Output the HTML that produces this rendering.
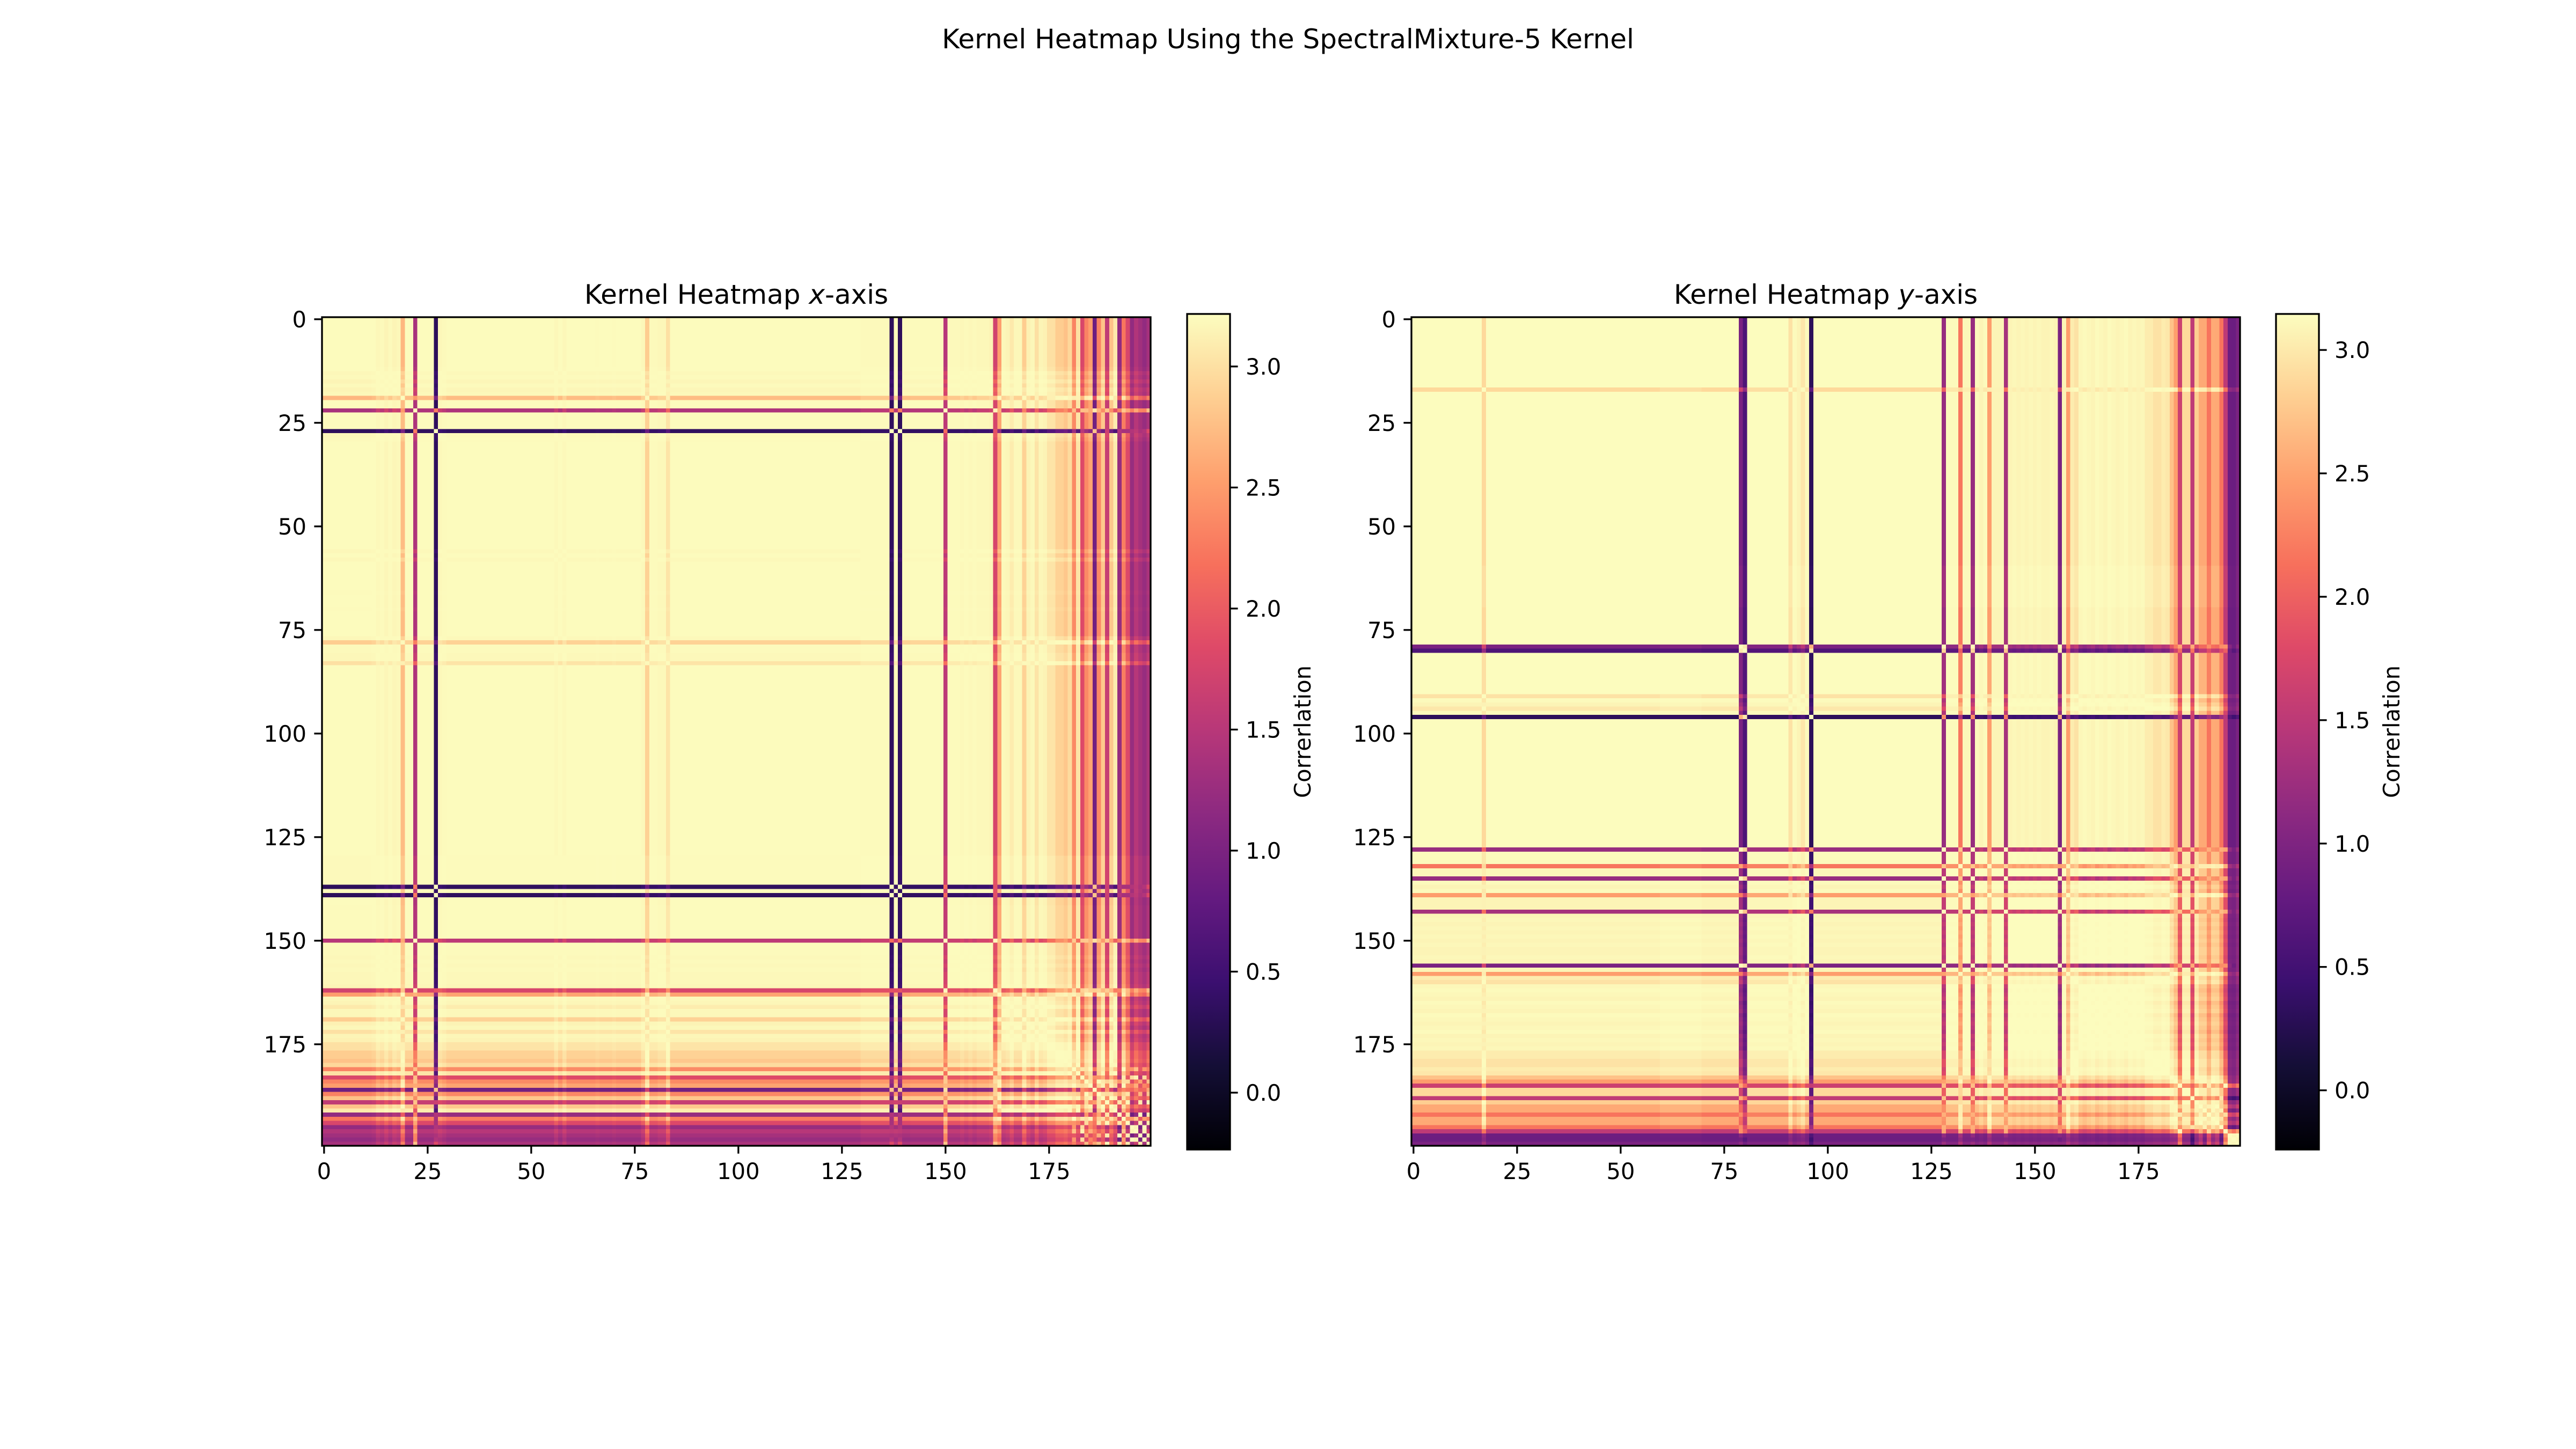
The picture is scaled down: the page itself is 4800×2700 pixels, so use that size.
<!DOCTYPE html>
<html>
<head>
<meta charset="utf-8">
<style>
html,body{margin:0;padding:0;background:#fff;}
#fig{position:relative;width:4800px;height:2700px;overflow:hidden;background:#fff;}
canvas.hm{position:absolute;image-rendering:pixelated;image-rendering:crisp-edges;}
svg{position:absolute;left:0;top:0;}
text{font-family:"DejaVu Sans","Liberation Sans",sans-serif;fill:#000;}
</style>
</head>
<body>
<div id="fig">
<canvas id="hmL" class="hm" width="200" height="200" style="left:600px;top:591px;width:1544px;height:1544px;"></canvas>
<canvas id="hmR" class="hm" width="200" height="200" style="left:2630px;top:591px;width:1544px;height:1544px;"></canvas>
<svg id="ov" width="4800" height="2700">
<defs>
<linearGradient id="magma" x1="0" y1="1" x2="0" y2="0">
<stop offset="0" stop-color="#000004"/><stop offset="0.1" stop-color="#140e36"/><stop offset="0.2" stop-color="#3b0f70"/><stop offset="0.3" stop-color="#641a80"/><stop offset="0.4" stop-color="#8c2981"/><stop offset="0.5" stop-color="#b73779"/><stop offset="0.6" stop-color="#de4968"/><stop offset="0.7" stop-color="#f7705c"/><stop offset="0.8" stop-color="#fe9f6d"/><stop offset="0.9" stop-color="#fecf92"/><stop offset="1" stop-color="#fcfdbf"/>
</linearGradient>
</defs>
<text x="2400" y="90" font-size="50" text-anchor="middle">Kernel Heatmap Using the SpectralMixture-5 Kernel</text>
<text x="1372" y="566" font-size="50" text-anchor="middle">Kernel Heatmap <tspan font-style="italic">x</tspan>-axis</text>
<text x="3402" y="566" font-size="50" text-anchor="middle">Kernel Heatmap <tspan font-style="italic">y</tspan>-axis</text>
</svg>
</div>
<script>
const leftValues = [
3.12,3.12,3.12,3.12,3.12,3.12,3.12,3.12,3.12,3.12,
3.12,3.12,3.10,3.00,3.05,2.95,3.05,2.95,3.00,2.30,
3.10,3.10,1.00,3.10,3.10,3.10,3.10,0.20,3.00,3.05,
3.10,3.10,3.10,3.10,3.10,3.10,3.10,3.10,3.10,3.10,
3.10,3.10,3.10,3.10,3.10,3.10,3.10,3.10,3.10,3.10,
3.10,3.10,3.10,3.10,3.10,3.10,3.00,3.10,3.00,3.10,
3.10,3.10,3.10,3.10,3.10,3.10,3.08,3.10,3.10,3.10,
3.08,3.10,3.10,3.10,3.10,3.10,3.10,3.00,2.50,3.05,
3.05,3.00,3.00,2.70,3.10,3.10,3.10,3.10,3.10,3.10,
3.10,3.10,3.10,3.10,3.10,3.10,3.10,3.10,3.10,3.10,
3.10,3.10,3.10,3.10,3.10,3.10,3.10,3.10,3.10,3.10,
3.10,3.10,3.10,3.10,3.10,3.10,3.10,3.10,3.10,3.10,
3.10,3.10,3.10,3.10,3.10,3.10,3.10,3.10,3.10,3.10,
3.05,3.05,3.05,3.05,3.05,3.05,3.05,0.20,3.05,0.20,
3.10,3.10,3.08,3.08,3.08,3.08,3.08,3.08,3.08,3.08,
1.10,3.05,3.05,3.05,3.00,3.05,3.00,3.05,3.00,3.00,
3.00,2.95,1.30,2.10,3.00,2.95,2.80,3.00,3.00,2.50,
2.90,3.00,2.70,2.95,2.90,2.70,2.70,2.50,2.50,2.40,
2.60,1.90,2.70,1.40,1.90,2.10,0.60,1.90,2.40,1.20,
2.40,2.80,0.90,1.80,1.40,0.90,1.10,1.00,0.90,1.00
];
// Direction (degrees) in which each index departs from the main cluster
const leftAngles = [
0,0,0,0,0,0,0,0,0,0, 0,0,0,0,0,0,0,0,0,0, 0,0,0,0,0,0,0,0,0,0,
0,0,0,0,0,0,0,0,0,0, 0,0,0,0,0,0,0,0,0,0, 0,0,0,0,0,0,0,0,0,0,
0,0,0,0,0,0,0,0,0,0, 0,0,0,0,0,0,0,0,0,0, 0,0,0,0,0,0,0,0,0,0,
0,0,0,0,0,0,0,0,0,0, 0,0,0,0,0,0,0,0,0,0, 0,0,0,0,0,0,0,0,0,0,
0,0,0,0,0,0,0,0,0,0, 0,0,0,0,0,0,0,0,0,0, 0,0,0,0,0,0,0,0,0,0,
0,0,0,0,0,0,0,0,0,0, 0,0,0,0,0,0,0,0,0,0, 0,0,0,0,0,0,0,0,0,0,
0,10,0,20,-10,10,0,-15,0,-20, 0,0,-30,10,-25,30,25,-30,30,-20
];
const rightValues = [
3.08,3.08,3.08,3.08,3.08,3.08,3.08,3.08,3.08,3.08,
3.08,3.08,3.08,3.08,3.08,3.08,3.08,2.60,3.08,3.08,
3.08,3.08,3.08,3.08,3.08,3.08,3.08,3.08,3.08,3.08,
3.08,3.08,3.08,3.08,3.08,3.08,3.08,3.08,3.08,3.08,
3.08,3.08,3.08,3.08,3.08,3.08,3.08,3.08,3.08,3.08,
3.08,3.08,3.08,3.08,3.08,3.08,3.08,3.08,3.08,3.08,
3.05,3.05,3.05,3.05,3.05,3.05,3.05,3.05,3.05,3.05,
3.08,3.08,3.08,3.08,3.08,3.08,3.08,3.08,3.08,0.70,
0.40,3.05,3.05,3.05,3.05,3.05,3.05,3.05,3.05,3.05,
3.05,2.70,3.00,2.90,2.75,3.00,0.20,3.08,3.08,3.08,
3.08,3.08,3.08,3.08,3.08,3.08,3.08,3.08,3.08,3.08,
3.08,3.08,3.08,3.08,3.08,3.08,3.08,3.08,3.08,3.08,
3.08,3.08,3.08,3.08,3.08,3.08,3.08,3.08,0.90,3.00,
3.00,3.00,1.80,2.95,2.95,0.90,3.00,2.90,3.00,2.10,
2.90,2.90,2.90,1.00,2.90,2.95,2.90,2.95,2.90,2.95,
2.90,2.95,2.90,2.90,2.95,2.90,0.70,2.90,2.10,2.80,
2.70,2.95,3.00,2.95,2.90,3.00,2.95,2.90,3.00,2.95,
2.90,2.95,3.00,2.90,2.95,2.90,2.95,2.80,2.80,2.70,
2.70,2.80,2.75,2.40,2.10,1.30,2.60,2.60,1.20,2.50,
2.20,2.20,1.80,2.20,2.20,1.80,1.20,0.70,0.70,0.80
];
const rightAngles = [
0,0,0,0,0,0,0,0,0,0, 0,0,0,0,0,0,0,0,0,0, 0,0,0,0,0,0,0,0,0,0,
0,0,0,0,0,0,0,0,0,0, 0,0,0,0,0,0,0,0,0,0, 0,0,0,0,0,0,0,0,0,0,
0,0,0,0,0,0,0,0,0,0, 0,0,0,0,0,0,0,0,0,0, 0,0,0,0,0,0,0,0,0,0,
0,0,0,0,0,0,0,0,0,0, 0,0,0,0,0,0,0,0,0,0, 0,0,0,0,0,0,0,0,0,0,
0,0,0,0,0,0,0,0,0,0, 0,0,0,0,0,0,0,0,0,0, 0,0,0,0,0,0,0,0,0,0,
0,0,0,0,0,0,0,0,0,0, 0,0,0,0,0,0,0,0,0,0, 0,0,0,0,0,0,0,0,0,0,
0,0,0,0,0,20,0,0,-20,0, 10,-10,15,0,10,-15,25,50,55,50
];
const axisTicks = [0,25,50,75,100,125,150,175];
const cbTicks = [0.0,0.5,1.0,1.5,2.0,2.5,3.0];
const cbTickLabels = ["0.0","0.5","1.0","1.5","2.0","2.5","3.0"];

const magmaStops = [[0,0,4],[20,14,54],[59,15,112],[100,26,128],[140,41,129],[183,55,121],[222,73,104],[247,112,92],[254,159,109],[254,207,146],[252,253,191]];
function magma(t){
  t = Math.max(0, Math.min(1, t));
  const p = t*10, i = Math.min(9, Math.floor(p)), f = p - i;
  const a = magmaStops[i], b = magmaStops[i+1];
  return [a[0]+(b[0]-a[0])*f, a[1]+(b[1]-a[1])*f, a[2]+(b[2]-a[2])*f];
}

function drawHeat(id, values, angles, amp, vmin, vmax){
  const cv = document.getElementById(id);
  const ctx = cv.getContext('2d');
  const n = values.length;
  const img = ctx.createImageData(n, n);
  const px = [], py = [];
  values.forEach((v, i) => {
    const d = Math.sqrt(Math.max(0, Math.log(amp / v)));
    const a = angles[i] * Math.PI / 180;
    px.push(d * Math.cos(a)); py.push(d * Math.sin(a));
  });
  for (let i = 0; i < n; i++){
    for (let j = 0; j < n; j++){
      const dx = px[i] - px[j], dy = py[i] - py[j];
      const k = amp * Math.exp(-(dx*dx + dy*dy));
      const c = magma((k - vmin) / (vmax - vmin));
      const o = (i*n + j)*4;
      img.data[o] = c[0]; img.data[o+1] = c[1]; img.data[o+2] = c[2]; img.data[o+3] = 255;
    }
  }
  ctx.putImageData(img, 0, 0);
}

const NS = 'http://www.w3.org/2000/svg';
const ov = document.getElementById('ov');
function mk(tag, attrs, txt){
  const e = document.createElementNS(NS, tag);
  for (const k in attrs) e.setAttribute(k, attrs[k]);
  if (txt !== undefined) e.textContent = txt;
  ov.appendChild(e);
  return e;
}

function drawAxes(prefix, x0, y0, size, n, cbx, cby, cbw, cbh, vmin, vmax){
  const cell = size / n;
  const f = mk('rect', {x:x0, y:y0, width:size, height:size, fill:'none', stroke:'#000', 'stroke-width':3.3});
  
  
  axisTicks.forEach(v => {
    const px = x0 + (v + 0.5) * cell;
    const t1 = mk('line', {x1:px, x2:px, y1:y0+size, y2:y0+size+14.6, stroke:'#000', 'stroke-width':3.3});
    
    
    const l1 = mk('text', {x:px, y:y0+size+29+33, 'font-size':41.7, 'text-anchor':'middle'}, String(v));
    
    
    const py = y0 + (v + 0.5) * cell;
    const t2 = mk('line', {x1:x0-14.6, x2:x0, y1:py, y2:py, stroke:'#000', 'stroke-width':3.3});
    
    
    const l2 = mk('text', {x:x0-29, y:py+15, 'font-size':41.7, 'text-anchor':'end'}, String(v));
    
    
  });
  const cb = mk('rect', {x:cbx, y:cby, width:cbw, height:cbh, fill:'url(#magma)', stroke:'#000', 'stroke-width':3.3});
  
  
  cbTicks.forEach((v, k) => {
    const py = cby + cbh - (v - vmin) / (vmax - vmin) * cbh;
    const t = mk('line', {x1:cbx+cbw, x2:cbx+cbw+14.6, y1:py, y2:py, stroke:'#000', 'stroke-width':3.3});
    
    
    const l = mk('text', {x:cbx+cbw+29, y:py+15, 'font-size':41.7}, cbTickLabels[k]);
    
    
  });
  const cx = cbx + cbw + 150, cy = cby + cbh/2;
  const lab = mk('text', {x:cx, y:cy, 'font-size':41.7, 'text-anchor':'middle', transform:'rotate(-90 '+cx+' '+cy+')'}, 'Correrlation');
  
  
}

drawHeat('hmL', leftValues, leftAngles, 3.2, -0.235, 3.217);
drawHeat('hmR', rightValues, rightAngles, 3.14, -0.24, 3.146);
drawAxes('left', 600, 591, 1544, leftValues.length, 2212, 585, 80, 1557, -0.235, 3.217);
drawAxes('right', 2630, 591, 1544, rightValues.length, 4241, 585, 80, 1557, -0.24, 3.146);
</script>
</body>
</html>
